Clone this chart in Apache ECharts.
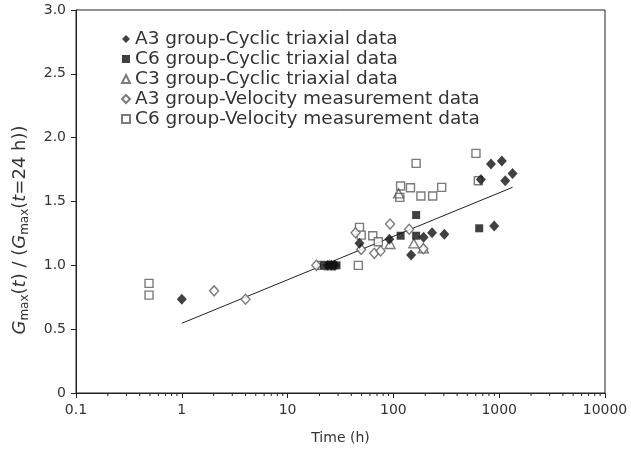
<!DOCTYPE html>
<html>
<head>
<meta charset="utf-8">
<script src="https://cdn.jsdelivr.net/npm/echarts@6/dist/echarts.min.js"></script>
<style>html,body{margin:0;padding:0;background:#fff}#c{width:631px;height:454px}</style>
</head>
<body>
<div id="c"></div>
<script>
// ---- data (time in hours, normalized Gmax) ----
const seriesNames = [
  'A3 group-Cyclic triaxial data',
  'C6 group-Cyclic triaxial data',
  'C3 group-Cyclic triaxial data',
  'A3 group-Velocity measurement data',
  'C6 group-Velocity measurement data'
];
const a3Cyclic = [
  [1, 0.734], [24, 1.0], [26, 1.0], [28, 1.0], [47.8, 1.172], [91.6, 1.204],
  [147, 1.081], [193, 1.219], [232, 1.255], [303, 1.243], [671, 1.673],
  [836, 1.793], [897, 1.308], [1059, 1.817], [1140, 1.662], [1337, 1.72]
];
const c6Cyclic = [
  [22, 1.0], [25, 1.0], [27, 1.0], [29, 1.0], [117, 1.232], [164, 1.232],
  [164, 1.394], [647, 1.29]
];
const c3Cyclic = [
  [25, 1.0], [93, 1.167], [112, 1.564], [156, 1.172], [192, 1.133]
];
const a3Velocity = [
  [2.02, 0.80], [4.0, 0.734], [18.7, 1.0], [43.9, 1.255], [49.6, 1.125],
  [66, 1.094], [75.6, 1.112], [93, 1.323], [141, 1.282], [192, 1.13]
];
const c6Velocity = [
  [0.49, 0.859], [0.49, 0.767], [21, 1.0], [46.6, 1.0], [47.8, 1.297],
  [49.6, 1.237], [63.8, 1.232], [72, 1.185], [115, 1.532], [117, 1.621],
  [145, 1.608], [164, 1.799], [182, 1.543], [235, 1.543], [286, 1.611],
  [603, 1.877], [635, 1.662]
];
const trendLine = [[1, 0.546], [1337, 1.611]];
const xTickLabels = ['0.1', '1', '10', '100', '1000', '10000'];
const yTickLabels = ['0', '0.5', '1.0', '1.5', '2.0', '2.5', '3.0'];
const minorTickValues = [];
[0.1, 1, 10, 100, 1000].forEach(d => { for (let k = 2; k <= 9; k++) minorTickValues.push(d * k); });

const FONT = 'DejaVu Sans';
const TXT = '#333';
const BLACK = '#111';
const OPEN = '#5a5a5a';

const chart = echarts.init(document.getElementById('c'), null, {renderer: 'canvas'});
const option = {
  animation: false,
  backgroundColor: '#fff',
  grid: {left: 76, right: 26, top: 10, bottom: 61, show: true, borderColor: '#222', borderWidth: 1, containLabel: false},
  legend: {
    orient: 'vertical', left: 116, top: 24, itemGap: 0, itemWidth: 8, itemHeight: 8,
    data: seriesNames,
    textStyle: {fontFamily: FONT, fontSize: 18.5, color: TXT, lineHeight: 20}
  },
  xAxis: {
    type: 'log', logBase: 10, min: 0.1, max: 10000,
    axisLine: {lineStyle: {color: '#222', width: 1}},
    axisTick: {show: true, length: 5, lineStyle: {color: '#222'}},
    splitLine: {show: false},
    axisLabel: {
      fontFamily: FONT, fontSize: 14, color: TXT, margin: 10,
      formatter: v => xTickLabels[Math.round(Math.log10(v)) + 1]
    },
    name: 'Time (h)', nameLocation: 'middle', nameGap: 38,
    nameTextStyle: {fontFamily: FONT, fontSize: 14, color: TXT}
  },
  yAxis: {
    type: 'value', min: 0, max: 3, interval: 0.5,
    axisLine: {show: true, lineStyle: {color: '#222', width: 1}},
    axisTick: {show: true, length: 5, lineStyle: {color: '#222'}},
    splitLine: {show: false},
    axisLabel: {
      fontFamily: FONT, fontSize: 14, color: TXT, margin: 10,
      formatter: v => yTickLabels[Math.round(v * 2)]
    }
  },
  graphic: [{
    type: 'text', x: 20, y: 230, rotation: Math.PI / 2,
    style: {
      text: '{i|G}{s|max}{n|(}{i|t}{n|) / (}{i|G}{s|max}{n|(}{i|t}{n|=24 h))}',
      fill: TXT, align: 'center', verticalAlign: 'middle',
      rich: {
        n: {fontFamily: FONT, fontSize: 18, fill: TXT, lineHeight: 22},
        i: {fontFamily: FONT, fontSize: 18, fontStyle: 'italic', fill: TXT, lineHeight: 22},
        s: {fontFamily: FONT, fontSize: 12, fill: TXT, verticalAlign: 'bottom', lineHeight: 16}
      }
    }
  }],
  series: [
    {
      type: 'custom', silent: true, clip: false, legendHoverLink: false,
      data: minorTickValues.map(v => [v, 0]),
      renderItem: (params, api) => {
        const p = api.coord([api.value(0), 0]);
        return {type: 'line', shape: {x1: p[0], y1: p[1], x2: p[0], y2: p[1] + 3}, style: {stroke: '#222', lineWidth: 1}};
      }
    },
    {
      type: 'line', data: trendLine, symbol: 'none', silent: true,
      lineStyle: {color: '#222', width: 1}, z: 1
    },
    {
      name: seriesNames[0], type: 'scatter', data: a3Cyclic, symbol: 'diamond', symbolSize: [10, 11],
      itemStyle: {color: BLACK}, z: 4
    },
    {
      name: seriesNames[1], type: 'scatter', data: c6Cyclic, symbol: 'rect', symbolSize: 8,
      itemStyle: {color: BLACK}, z: 4
    },
    {
      name: seriesNames[2], type: 'scatter', data: c3Cyclic, symbol: 'triangle', symbolSize: [10, 9],
      itemStyle: {color: 'rgba(255,255,255,0)', borderColor: OPEN, borderWidth: 1.4}, z: 3
    },
    {
      name: seriesNames[3], type: 'scatter', data: a3Velocity, symbol: 'diamond', symbolSize: [9, 10],
      itemStyle: {color: '#fff', borderColor: OPEN, borderWidth: 1.4}, z: 3
    },
    {
      name: seriesNames[4], type: 'scatter', data: c6Velocity, symbol: 'rect', symbolSize: 8,
      itemStyle: {color: '#fff', borderColor: OPEN, borderWidth: 1.4}, z: 2
    }
  ]
};
chart.setOption(option);
</script>
</body>
</html>
